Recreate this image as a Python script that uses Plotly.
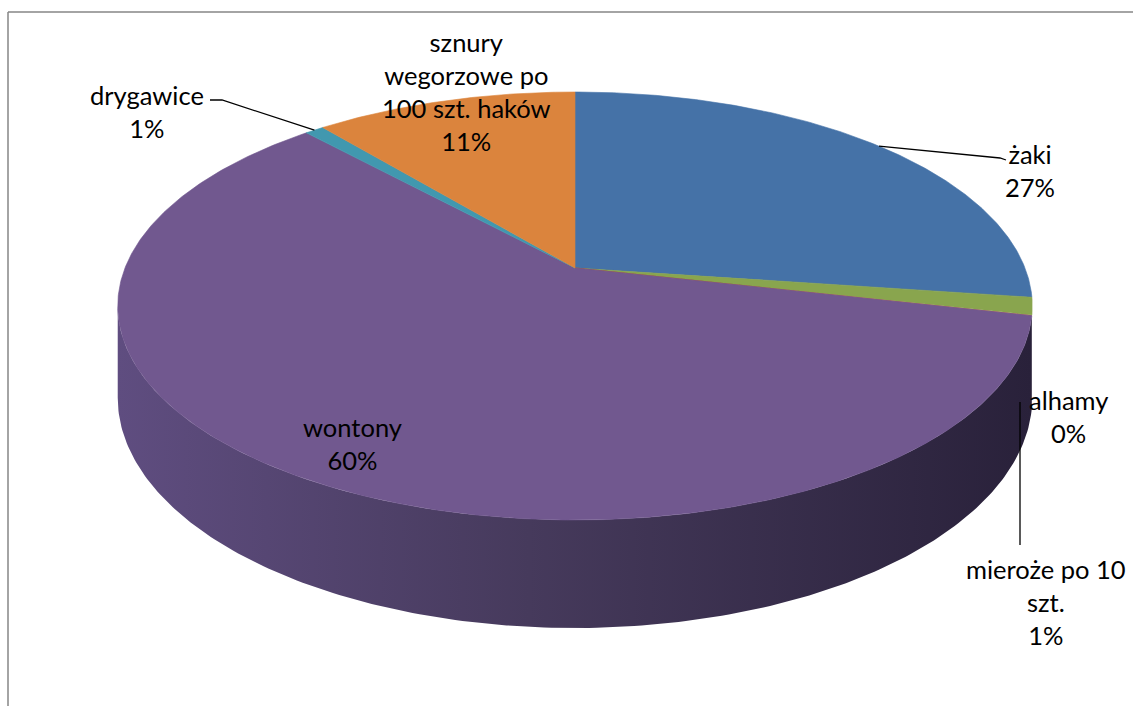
import numpy as np
import plotly.graph_objects as go

# ---- data ----
categories = ["żaki", "mieroże po 10 szt.", "alhamy", "wontony", "drygawice",
              "sznury wegorzowe po 100 szt. haków"]
label_text = ["żaki", "mieroże po 10<br>szt.", "alhamy", "wontony", "drygawice",
              "sznury<br>wegorzowe po<br>100 szt. haków"]
values = [27.2, 1.3, 0.05, 59.65, 0.8, 11.0]
colors = ["#4572a7", "#89a54e", "#aa4643", "#71588f", "#4198af", "#db843d"]
side_colors = ["#2f4f78", "#5f7436", "#74302e", "#3a2e4c", "#2c6a7a", "#9a5c2a"]

# ---- 3D pie geometry (perspective-tilted disk) ----
W, H = 1133, 706
CX, A, B0, C, K, D = 575.0, 159.66, 268.0, -0.1776, 450.0, 88.8


def proj(phi, drop=0.0):
    u = np.sin(phi)
    t = -np.cos(phi)
    den = 1 + C * t
    return CX + K * u / den, (A * t + B0) / den + drop * D / den


total = sum(values)
fracs = np.array(values) / total
starts = np.concatenate([[0], np.cumsum(fracs)[:-1]]) * 2 * np.pi
ends = np.cumsum(fracs) * 2 * np.pi
mids = (starts + ends) / 2

fig = go.Figure()

# visible front side (silhouette between right and left extremes)
phi_r = np.pi - np.arccos(-C)
phi_l = 2 * np.pi - phi_r
for i, (s, e) in enumerate(zip(starts, ends)):
    a0, a1 = max(s, phi_r), min(e, phi_l)
    if a1 <= a0:
        continue
    ph = np.linspace(a0, a1, 200)
    xt, yt = proj(ph)
    xb, yb = proj(ph[::-1], 1.0)
    xs = np.concatenate([xt, xb, xt[:1]])
    ys = np.concatenate([yt, yb, yt[:1]])
    kw = dict(fillcolor=side_colors[i])
    if categories[i] == "wontony":
        kw = dict(fillgradient=dict(type="horizontal",
                                    colorscale=[[0, "#5f4d80"], [0.45, "#463a5c"],
                                                [1, "#29213a"]]))
    fig.add_trace(go.Scatter(x=xs, y=ys, mode="lines", fill="toself",
                             line=dict(width=0, color=side_colors[i]),
                             hoverinfo="skip", showlegend=False, **kw))

# top faces
for i, (s, e) in enumerate(zip(starts, ends)):
    ph = np.linspace(s, e, max(3, int((e - s) * 120)))
    xa, ya = proj(ph)
    xs = np.concatenate([[CX], xa, [CX]])
    ys = np.concatenate([[B0], ya, [B0]])
    fig.add_trace(go.Scatter(x=xs, y=ys, mode="lines", fill="toself",
                             fillcolor=colors[i], line=dict(width=0.6, color=colors[i]),
                             name=categories[i], hoverinfo="name", showlegend=False))


def idx(name):
    return categories.index(name)


# leader lines
x0, y0 = proj(mids[idx("żaki")])
fig.add_trace(go.Scatter(x=[x0, 1000, 1006], y=[y0, 158, 160], mode="lines",
                         line=dict(color="black", width=1.3), hoverinfo="skip",
                         showlegend=False))
x0, y0 = proj(mids[idx("drygawice")])
fig.add_trace(go.Scatter(x=[x0, 222, 210], y=[y0, 100, 100], mode="lines",
                         line=dict(color="black", width=1.3), hoverinfo="skip",
                         showlegend=False))
fig.add_trace(go.Scatter(x=[1020, 1020], y=[402, 545], mode="lines",
                         line=dict(color="black", width=1.3), hoverinfo="skip",
                         showlegend=False))

# labels
label_pos = {"żaki": (1030, 170), "alhamy": (1068, 416),
             "mieroże po 10 szt.": (1046, 602), "wontony": (352, 443),
             "drygawice": (147, 111), "sznury wegorzowe po 100 szt. haków": (466, 91)}
for i, cat in enumerate(categories):
    lx, ly = label_pos[cat]
    pct = f"{round(values[i] / total * 100):.0f}%"
    fig.add_annotation(x=lx, y=ly, xref="x", yref="y", text=f"{label_text[i]}<br>{pct}",
                       showarrow=False, align="center", xanchor="center", yanchor="middle",
                       font=dict(family="Lato", size=25.5, color="black"))

# chart-area border (partially cropped by the frame)
fig.add_shape(type="line", x0=8, x1=W, y0=12, y1=12, xref="x", yref="y",
              line=dict(color="#868686", width=1.5))
fig.add_shape(type="line", x0=8, x1=8, y0=12, y1=H, xref="x", yref="y",
              line=dict(color="#868686", width=1.5))

fig.update_xaxes(range=[0, W], visible=False, fixedrange=True)
fig.update_yaxes(range=[H, 0], visible=False, fixedrange=True)
fig.update_layout(width=W, height=H, margin=dict(l=0, r=0, t=0, b=0),
                  paper_bgcolor="white", plot_bgcolor="white", showlegend=False)

fig.write_html("out.html", config={"displayModeBar": False},
               post_script="document.body.style.margin='0';"
                           "document.body.style.overflow='hidden';")
